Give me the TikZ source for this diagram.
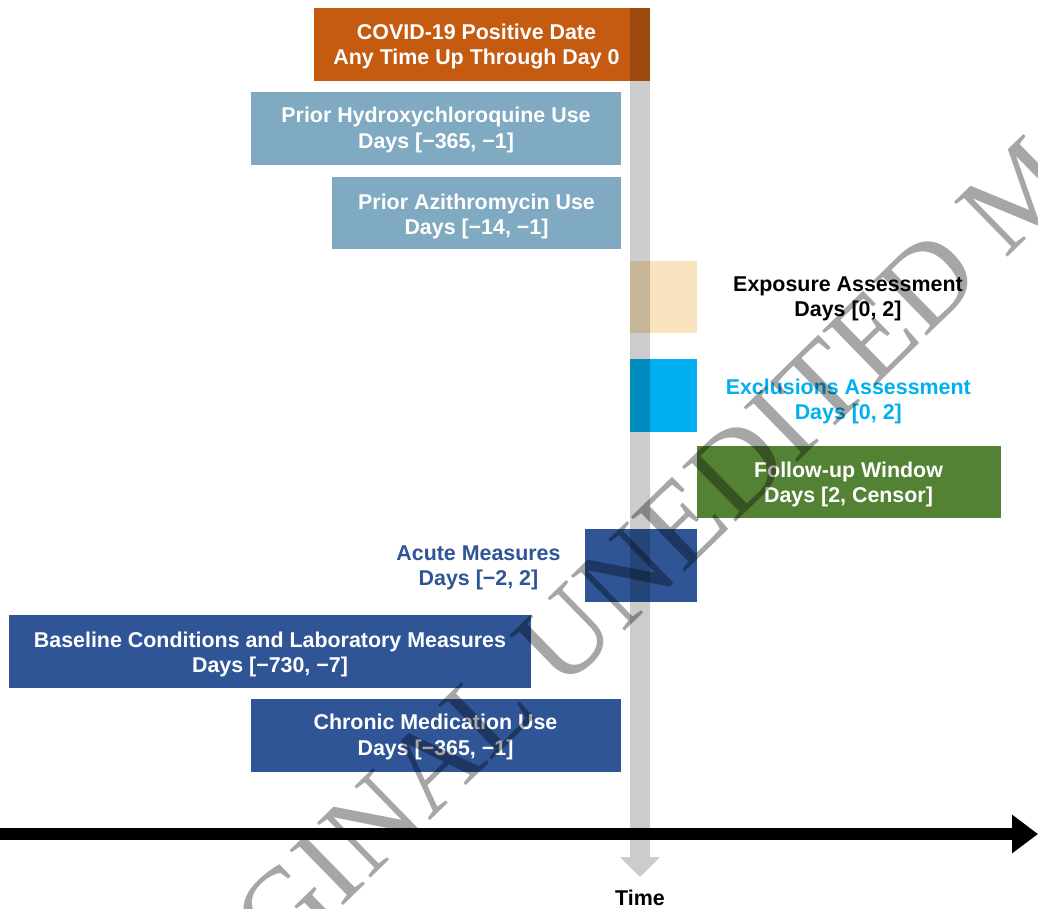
\documentclass[tikz,border=0pt]{standalone}
\usepackage{fontspec}
\setmainfont{Liberation Sans}
\newfontfamily\wmfont{Liberation Serif}
\usetikzlibrary{arrows.meta}
\definecolor{cCovid}{HTML}{C55A11}
\definecolor{cPrior}{HTML}{7FAAC1}
\definecolor{cExpo}{HTML}{FAE4C0}
\definecolor{cExcl}{HTML}{00B0F0}
\definecolor{cFollow}{HTML}{548235}
\definecolor{cDark}{HTML}{2F5597}
\begin{document}
\begin{tikzpicture}[x=1pt,y=-1pt,
  box/.style={draw=none, inner sep=0pt, outer sep=0pt, anchor=north west},
  lbl/.style={font=\fontsize{21.4}{25.3}\selectfont\bfseries, align=center, inner sep=0pt},
  wmark/.style={font=\wmfont\fontsize{117}{117}\selectfont, text=black, opacity=0.35, inner sep=0pt}
]
\useasboundingbox (0,0) rectangle (1038,908);
\fill[white] (0,0) rectangle (1038,908);

% boxes
\node[box, fill=cCovid, minimum width=336pt, minimum height=72.5pt] (covid) at (314,8) {};
\node[box, fill=cPrior, minimum width=370pt, minimum height=72.5pt] (hcq) at (251,92.3) {};
\node[box, fill=cPrior, minimum width=289pt, minimum height=72.5pt] (azi) at (332,176.8) {};
\node[box, fill=cExpo, minimum width=67pt, minimum height=72.3pt] (expo) at (630,261) {};
\node[box, fill=cExcl, minimum width=67pt, minimum height=72.5pt] (excl) at (630,359) {};
\node[box, fill=cFollow, minimum width=304pt, minimum height=71.7pt] (follow) at (697,446) {};
\node[box, fill=cDark, minimum width=112pt, minimum height=72.5pt] (acute) at (585,529) {};
\node[box, fill=cDark, minimum width=522pt, minimum height=72.5pt] (base) at (9,615) {};
\node[box, fill=cDark, minimum width=370pt, minimum height=72.5pt] (chronic) at (251,699) {};

% labels
\node[lbl, text=white] (covidt) at (476.5,46.8) {COVID-19 Positive Date\\Any Time Up Through Day 0};
\node[lbl, text=white] (hcqt) at (436,130) {Prior Hydroxychloroquine Use\\Days [−365, −1]};
\node[lbl, text=white] (azit) at (476.5,216.4) {Prior Azithromycin Use\\Days [−14, −1]};
\node[lbl, text=black] (expot) at (848,298.8) {Exposure Assessment\\Days [0, 2]};
\node[lbl, text=cExcl] (exclt) at (848.3,401.4) {Exclusions Assessment\\Days [0, 2]};
\node[lbl, text=white] (followt) at (848.5,484.6) {Follow-up Window\\Days [2, Censor]};
\node[lbl, text=cDark] (acutet) at (478.5,568) {Acute Measures\\Days [−2, 2]};
\node[lbl, text=white] (baset) at (270,654.3) {Baseline Conditions and Laboratory Measures\\Days [−730, −7]};
\node[lbl, text=white] (chronict) at (435.5,737.1) {Chronic Medication Use\\Days [−365, −1]};
\node[lbl, text=black] (time) at (640,898) {Time};

% grey vertical time arrow
\coordinate (ttop) at (640,8);
\coordinate (tend) at (640,877);
\begin{scope}[transparency group, opacity=0.2]
\draw[black, line width=20pt, -{Triangle[width=39pt,length=20pt]}] (ttop) -- (tend);
\end{scope}

% black time line
\coordinate (tl0) at (0,834);
\coordinate (tl1) at (1038,834);
\draw[black, line width=12pt, -{Triangle[width=37pt,length=26pt]}] (tl0) -- (tl1);

% watermark
\begin{scope}
\clip (0,0) rectangle (1038,908);
\node[wmark, rotate=44.3, anchor=base west] (wm) at (136,1108) {ORIGINAL UNEDITED MANUSCRIPT};
\end{scope}
\end{tikzpicture}
\end{document}
